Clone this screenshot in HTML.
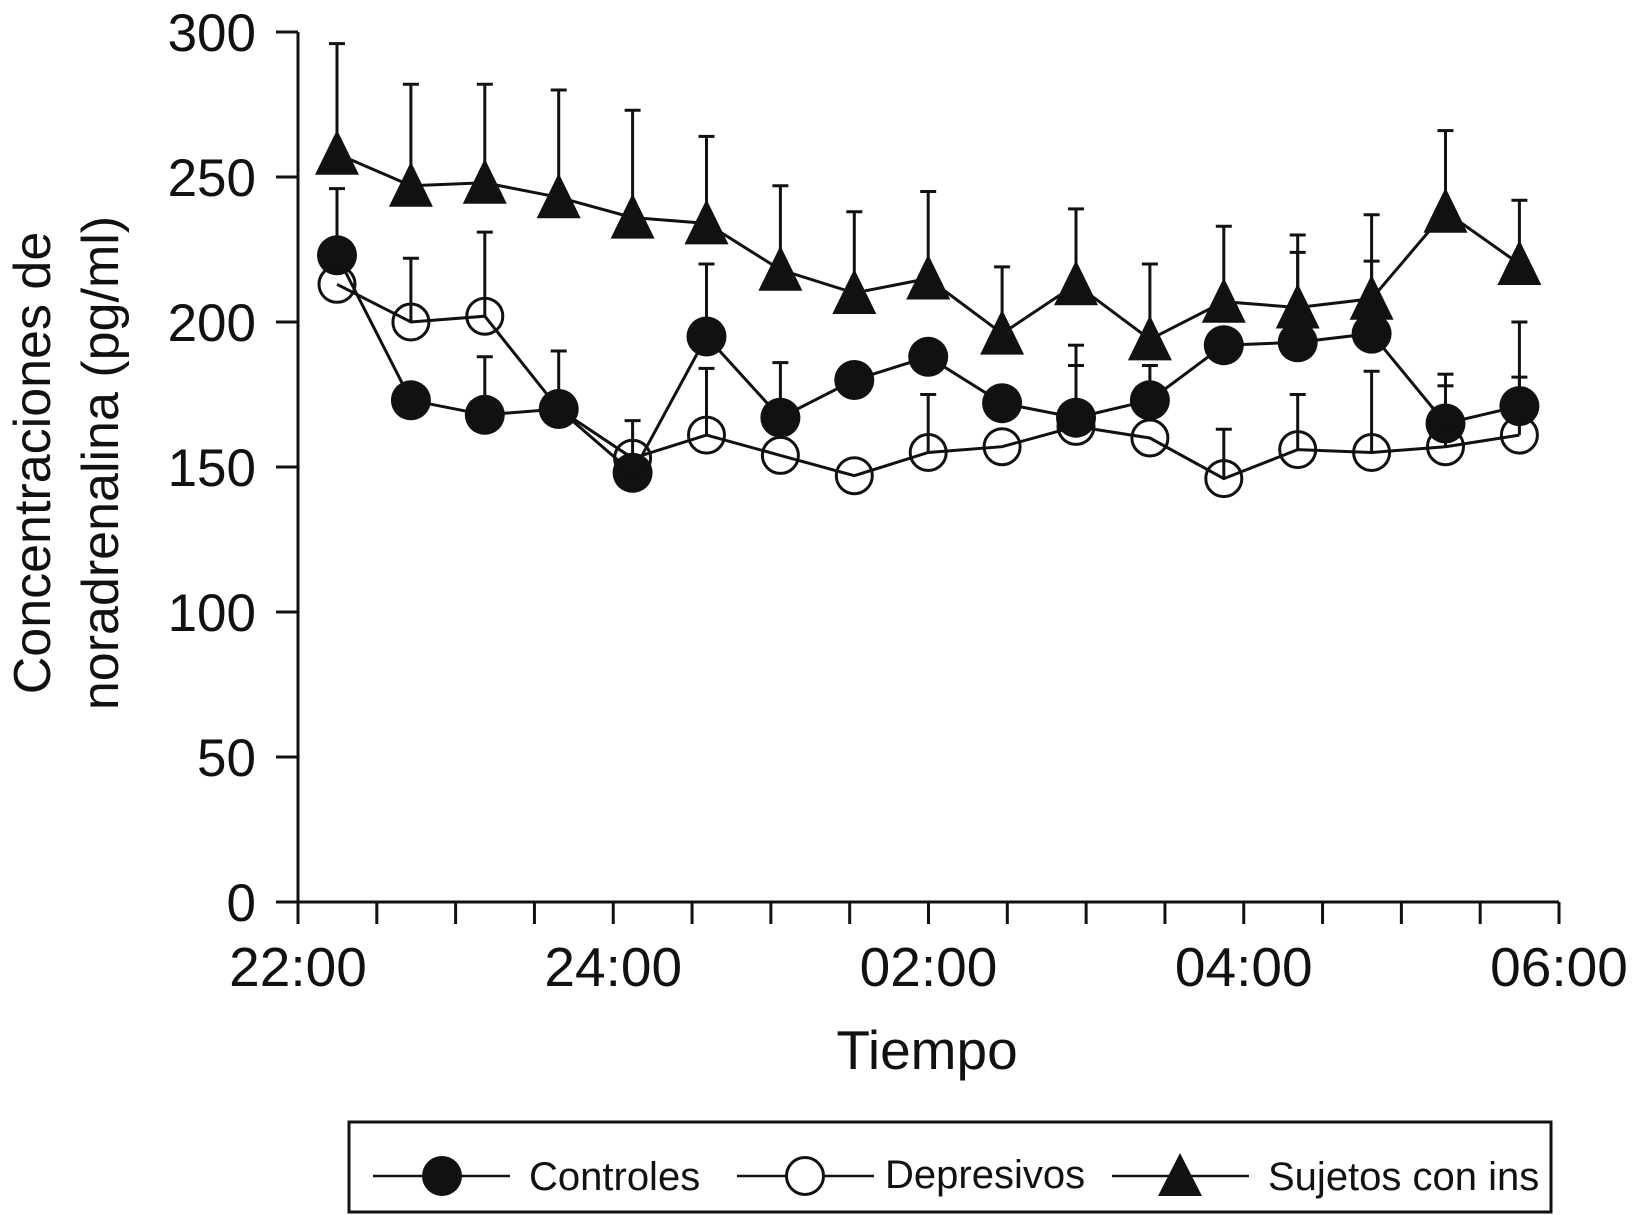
<!DOCTYPE html>
<html><head><meta charset="utf-8"><style>
html,body{margin:0;padding:0;background:#fff}
svg{display:block;font-family:"Liberation Sans",Arial,sans-serif}
</style></head><body>
<svg id="chart" width="1632" height="1215" viewBox="0 0 1632 1215">
<g id="axes"></g>
<g id="series"></g>
<text x="927" y="1069" font-size="55" text-anchor="middle" fill="#111">Tiempo</text>
<g transform="translate(0,463) rotate(-90)">
<text x="0" y="50" font-size="52" text-anchor="middle" fill="#111">Concentraciones de</text>
<text x="0" y="118" font-size="52" text-anchor="middle" fill="#111">noradrenalina (pg/ml)</text>
</g>
<g>
<rect x="349" y="1122" width="1202" height="90" fill="none" stroke="#111" stroke-width="3"/>
<g>
<line x1="373" y1="1176" x2="510" y2="1176" stroke="#111" stroke-width="2.5"/>
<circle cx="442" cy="1176" r="20" fill="#111"/>
<text x="529" y="1190" font-size="40" fill="#111">Controles</text></g>
<g>
<line x1="737" y1="1176" x2="874" y2="1176" stroke="#111" stroke-width="2.5"/>
<circle cx="805" cy="1176" r="18.5" fill="#fff" stroke="#111" stroke-width="3"/>
<text x="885" y="1188" font-size="40" fill="#111">Depresivos</text></g>
<g>
<line x1="1112" y1="1176" x2="1249" y2="1176" stroke="#111" stroke-width="2.5"/>
<polygon points="1180,1153 1202,1196 1158,1196" fill="#111"/>
<text x="1268" y="1190" font-size="40" fill="#111">Sujetos con ins</text></g>
</g>
</svg>
<script>
const yTicks = [0, 50, 100, 150, 200, 250, 300];
const xLabels = ["22:00", "24:00", "02:00", "04:00", "06:00"];
const controles = [223,173,168,170,148,195,167,180,188,172,167,173,192,193,196,165,171];
const controlesErr = [246,173,188,190,166,220,186,162,175,172,192,185,192,224,221,182,200];
const depresivos = [213,200,202,170,153,161,154,147,155,157,164,160,146,156,155,157,161];
const depresivosErr = [213,222,231,170,153,184,154,147,175,157,185,160,163,175,183,178,181];
const sujetos = [258,247,248,243,236,234,218,210,215,196,213,194,207,205,208,238,220];
const sujetosErr = [296,282,282,280,273,264,247,238,245,219,239,220,233,230,237,266,242];

const NS = "http://www.w3.org/2000/svg";
const X0 = 298, X1 = 1559, Y0 = 902, Y300 = 32;
const yS = v => Y0 - (v / 300) * (Y0 - Y300);
const xS = i => 337 + i * 73.9;
const axes = document.getElementById('axes');
const ser = document.getElementById('series');
function mk(tag, attrs, parent) {
  const e = document.createElementNS(NS, tag);
  for (const k in attrs) e.setAttribute(k, attrs[k]);
  parent.appendChild(e); return e;
}
let e = mk('line', {x1:X0,y1:Y300,x2:X0,y2:Y0,stroke:'#111','stroke-width':3}, axes);


e = mk('line', {x1:X0,y1:Y0,x2:X1,y2:Y0,stroke:'#111','stroke-width':3}, axes);


yTicks.forEach(v => {
  const t = mk('line', {x1:X0-22,y1:yS(v),x2:X0,y2:yS(v),stroke:'#111','stroke-width':3}, axes);
  
  
  const l = mk('text', {x:256,y:yS(v)+19,'font-size':53,'text-anchor':'end',fill:'#111'}, axes);
  l.textContent = v;
  
  
});
const step = (X1 - X0) / 16;
for (let k = 0; k <= 16; k++) {
  const x = X0 + k * step;
  const t = mk('line', {x1:x,y1:Y0,x2:x,y2:Y0+22,stroke:'#111','stroke-width':3}, axes);
  
  
}
xLabels.forEach((s, k) => {
  const l = mk('text', {x:X0 + k*4*step, y:986, 'font-size':55,'text-anchor':'middle',fill:'#111'}, axes);
  l.textContent = s;
  
  
});
function errs(vals, tops, name) {
  vals.forEach((v, i) => {
    if (tops[i] <= v) return;
    const g = mk('g', {stroke:'#111','stroke-width':3}, ser);
    
    
    mk('line', {x1:xS(i),y1:yS(v),x2:xS(i),y2:yS(tops[i])}, g);
    mk('line', {x1:xS(i)-8,y1:yS(tops[i]),x2:xS(i)+8,y2:yS(tops[i])}, g);
  });
}
function line(vals, name) {
  const p = mk('polyline', {points: vals.map((v,i)=>xS(i)+','+yS(v)).join(' '), fill:'none', stroke:'#111','stroke-width':3}, ser);
  
  
}
errs(sujetos, sujetosErr, 'sujetos');
errs(controles, controlesErr, 'controles');
errs(depresivos, depresivosErr, 'depresivos');
line(sujetos, 'sujetos');
line(controles, 'controles');
line(depresivos, 'depresivos');
sujetos.forEach((v, i) => {
  const x = xS(i), y = yS(v);
  const p = mk('polygon', {points:`${x},${y-24} ${x+22},${y+21} ${x-22},${y+21}`, fill:'#111'}, ser);
  
  
});
controles.forEach((v, i) => {
  const c = mk('circle', {cx:xS(i), cy:yS(v), r:20, fill:'#111'}, ser);
  
  
});
depresivos.forEach((v, i) => {
  const c = mk('circle', {cx:xS(i), cy:yS(v), r:18, fill:'none', stroke:'#111','stroke-width':3}, ser);
  
  
});
</script>
</body></html>
